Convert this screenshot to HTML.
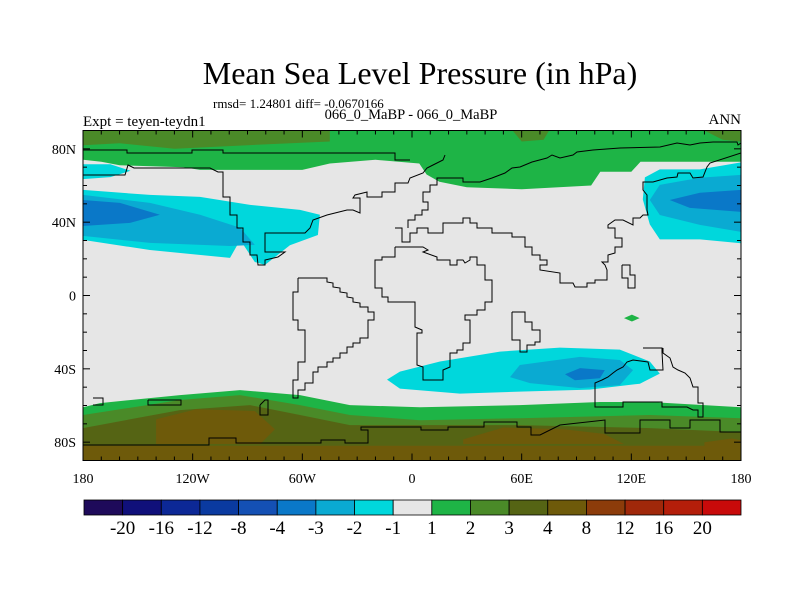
<!DOCTYPE html>
<html><head><meta charset="utf-8">
<style>
body{margin:0;background:#fff;}
svg text{font-family:"Liberation Serif",serif;fill:#000;}
</style></head>
<body>
<svg id="chart" width="800" height="600" viewBox="0 0 800 600" xmlns="http://www.w3.org/2000/svg">
<rect width="800" height="600" fill="#fff"/>
<text x="420" y="84" font-size="32" text-anchor="middle">Mean Sea Level Pressure (in hPa)</text>
<text x="213" y="108" font-size="13">rmsd= 1.24801 diff= -0.0670166</text>
<text x="411" y="119" font-size="14.5" text-anchor="middle">066_0_MaBP - 066_0_MaBP</text>
<text x="83" y="126" font-size="15">Expt = teyen-teydn1</text>
<text x="741" y="124" font-size="15" text-anchor="end">ANN</text>
<g id="plot"></g>
<g id="cbar"></g>
</svg>
<script>
const levelLabels=["-20","-16","-12","-8","-4","-3","-2","-1","1","2","3","4","8","12","16","20"];
const levelColors=["#1e0a5a","#10107a","#0c2896","#0a3aa0","#1450b4","#0a78c8","#0aaad2","#00d7dc","#e6e6e6","#1eb446","#4a8a28","#556414","#6e5a0a","#8c3c0a","#a0280a","#b41e0a","#c80a0a"];
const latTicks=[80,40,0,-40,-80];
const latTickLabels=["80N","40N","0","40S","80S"];
const lonTicks=[-180,-120,-60,0,60,120,180];
const lonTickLabels=["180","120W","60W","0","60E","120E","180"];
const northGreen=[[-180,90],[180,90],[180,73],[125,73],[120,67.5],[103,67.5],[98,60],[60,58],[30,59],[15,62],[8,66],[4,72],[-20,74],[-45,72],[-60,68.5],[-116,68.5],[-125,70],[-160,71],[-170,73],[-180,74]];
const northOlive1=[[-180,90],[-45,90],[-45,84],[-90,82],[-130,80],[-160,83],[-180,82]];
const northOlive2=[[55,90],[75,90],[72,85],[60,84]];
const northOlive3=[[160,90],[180,90],[180,84],[170,85]];
const pacCyanTop=[[-180,71.6],[-165,71.6],[-154,68],[-165,64.6],[-180,63.5]];
const pacCyan=[[-180,57.6],[-143.4,54.9],[-116,53.8],[-88.6,49.4],[-61.3,46.7],[-50.4,44],[-51.5,33],[-66.8,27.4],[-80.4,16.7],[-86,18.3],[-94,30.3],[-99.6,20.5],[-143.4,24.8],[-180,30.3]];
const pacMed=[[-180,54.9],[-143.4,50.5],[-116,44],[-94,36.9],[-86,27.6],[-99.6,27],[-143.4,28.7],[-180,32.5]];
const pacDark=[[-180,52.1],[-159.8,50.5],[-137.9,44],[-154.3,39.6],[-180,37.9]];
const wpCyan=[[180,72.6],[157.5,68.8],[135.6,68.8],[127.4,64.4],[126.3,52.4],[130.1,38.8],[135.6,30.6],[157.5,30.6],[180,28.5]];
const wpMed=[[180,65.8],[157.5,64.2],[135.6,60.3],[130.1,52.1],[135.6,43.9],[157.5,38.5],[180,34.7]];
const wpDark=[[180,57.6],[157.5,56],[141,52.1],[152,47.8],[180,45.6]];
const soCyan=[[-13.7,-45.9],[-6.6,-41.5],[15.3,-36],[48.1,-30.6],[80.9,-28.4],[113.7,-29.5],[130.1,-36],[135.6,-42.6],[124.7,-48.1],[97.3,-51.3],[59,-52.4],[26.2,-53.5],[-6.6,-50.8]];
const soMed=[[53.6,-44.5],[59,-37.9],[91.9,-33.5],[113.7,-35.2],[120.9,-40.7],[113.7,-48.9],[91.9,-50.5],[64.5,-47.8]];
const soDark=[[83.7,-42.9],[91.9,-39.6],[105.5,-40.7],[102.8,-45.1],[89.1,-46.2]];
const greenDot=[[116,-12.3],[120.3,-10.4],[124.5,-12.3],[120.3,-14.2]];
const sGreen=[[-180,-60.9],[-170.7,-58.7],[-127,-54.3],[-94.1,-51.6],[-61.3,-54.3],[-34,-59.8],[4.3,-60.9],[59,-59.8],[102.8,-58.1],[130.1,-58.1],[180,-60.9],[180,-90],[-180,-90]];
const sOlive1=[[-180,-65.2],[-127,-57],[-94.1,-54.3],[-61.3,-59.8],[-34,-65.2],[4.3,-68],[59,-66.9],[130.1,-65.2],[180,-66.9],[180,-90],[-180,-90]];
const sOlive2=[[-180,-72.3],[-127,-62.5],[-88.6,-59.8],[-61.3,-65.2],[-34,-70.7],[4.3,-70.7],[59,-70.7],[130.1,-72.3],[180,-74.5],[180,-90],[-180,-90]];
const sBrown1=[[-140,-67.5],[-118,-62],[-86,-63],[-75,-73],[-83,-81],[-140,-81]];
const sBrown2=[[28,-78.5],[50,-72],[83,-73],[105,-75.5],[116,-81],[28,-81]];
const sBrown3=[[-180,-82],[180,-82],[180,-90],[-180,-90]];
const sBrown4=[[160,-80],[175,-78],[180,-79],[180,-84],[160,-84]];
const fills=[[northGreen,9],[northOlive1,10],[northOlive2,10],[northOlive3,10],[pacCyanTop,7],[pacCyan,7],[pacMed,6],[pacDark,5],[wpCyan,7],[wpMed,6],[wpDark,5],[soCyan,7],[soMed,6],[soDark,5],[greenDot,9],[sGreen,9],[sOlive1,10],[sOlive2,11],[sBrown1,12],[sBrown2,12],[sBrown3,12],[sBrown4,12]];

const X0=83,X1=741,Y0=130.5,Y1=460.5;
function xs(lon){return X0+(lon+180)/360*(X1-X0);}
function ys(lat){return Y0+(90-lat)/180*(Y1-Y0);}
const NS="http://www.w3.org/2000/svg";
function mk(tag,attrs,parent){const e=document.createElementNS(NS,tag);for(const k in attrs)e.setAttribute(k,attrs[k]);parent.appendChild(e);return e;}
const plot=document.getElementById('plot');
const clipDefs=mk('defs',{},plot);
const cp=mk('clipPath',{id:'pc'},clipDefs);
mk('rect',{x:X0,y:Y0,width:X1-X0,height:Y1-Y0},cp);
const bg=mk('rect',{x:X0,y:Y0,width:X1-X0,height:Y1-Y0,fill:levelColors[8]},plot);


const fg=mk('g',{'clip-path':'url(#pc)'},plot);
fills.forEach((f,i)=>{
  const pts=f[0].map(p=>xs(p[0]).toFixed(1)+','+ys(p[1]).toFixed(1)).join(' ');
  const el=mk('polygon',{points:pts,fill:levelColors[f[1]]},fg);
  
  
});
const coasts=[
"83,150 127,150 127,153 192,153 192,150 223,150 223,153 340,153 395,153 395,160 410,160",
"83,175 125,175 128,165 134,168 210,168 218,172 223,172 223,183 223,197 230,197 230,215 237,215 237,228 243,228 243,242 250,242 250,255 257,255 258,265 265,265 265,260 278,257 285,252 265,252 265,233 305,233 310,228 313,220 327,215 347,210 353,210 360,213 360,198 353,198 355,195 367,192 367,197 382,197 382,192 395,192 395,183 408,183 410,178 423,173 427,168 433,165 443,160 445,155",
"395,228 402,228 402,242 410,242 410,233 417,233 417,228 428,228 428,233 443,233 443,223 463,223 463,218 470,218 470,223 477,223 477,228 492,228 492,233 512,233 512,237 525,237 525,247 532,247 532,255 540,255 540,260 547,260 547,265 540,265 540,270 560,273 560,283 573,283 575,287 587,287 587,283 595,283 595,280 607,280 607,270 605,265 602,262 608,262 608,255 615,253 615,247 622,247 622,238 615,238 615,228 608,228 608,225 615,220 623,220 633,225 633,218 640,218 643,215 648,215 647,210 647,195 643,190 643,182 653,182 667,178 677,177 678,173 690,173 693,178 703,177 707,167 710,163 741,153",
"408,228 408,220 415,220 415,215 422,215 422,210 428,210 428,202 423,202 423,192 430,192 430,185 437,185 437,178 463,178 463,182 480,182 492,178 505,173 512,168 520,167 532,162 547,158 552,155 560,158 573,155 577,152 593,150 620,148 660,147 677,143 690,145 700,143 713,142 737,142 738,145 741,143",
"395,247 423,247 428,250 423,252 437,257 437,260 450,260 450,265 457,265 457,260 463,260 465,263 470,260 470,257 477,257 477,265 485,265 485,280 492,280 492,302 485,302 485,310 477,310 477,315 465,315 465,320 470,320 470,343 463,343 463,350 457,350 457,353 450,353 450,367 443,370 443,380 423,380 423,367 417,365 417,333 422,333 422,330 415,327 415,302 388,302 388,297 382,297 382,288 375,288 375,260 382,260 382,257 395,257 395,247",
"298,278 327,278 327,282 333,283 333,287 340,288 340,292 347,293 347,297 353,298 353,302 360,303 360,307 368,307 368,312 374,312 374,320 368,320 368,338 360,338 360,343 353,343 353,347 347,347 347,353 340,353 340,358 333,358 333,362 327,362 327,367 318,367 318,372 313,372 313,383 305,383 305,390 298,390 298,398 293,398 293,380 298,380 298,362 305,362 305,330 298,330 298,320 293,320 293,292 298,292 298,278",
"643,348 662,348 662,352 663,370 650,370 648,362 633,360 627,362 623,367 617,370 613,373 608,377 602,380 595,383 595,407 623,407 623,402 662,402 662,407 687,407 693,410 698,410 698,417 703,417 703,403 698,403 698,387 693,387 690,378 685,373 678,370 673,367 670,358 663,353 663,348",
"512,312 525,312 525,322 532,322 532,330 540,330 540,342 535,342 535,345 527,345 527,352 520,352 520,340 512,340 512,312",
"622,265 630,265 630,275 635,275 635,288 628,288 628,278 622,278 622,265",
"83,445 209,445 209,438 236,438 236,443 321,443 321,440 345,440 345,443 368,443 368,430 361,430 361,427 421,427 421,430 448,430 448,427 484,427 484,422 517,422 517,427 531,427 531,435 540,435 560,425 605,420 605,433 640,433 640,420 670,420 670,428 690,428 690,420 720,420 720,432 741,432",
"148,400 181,400 181,405 148,405 148,400",
"93,398 103,398 103,405 93,405",
"260,405 265,400 268,400 268,415 260,415 260,405"
];
const cg=mk('g',{'clip-path':'url(#pc)'},plot);
coasts.forEach((c,i)=>{
  const el=mk('polyline',{points:c,fill:'none',stroke:'#000','stroke-width':1},cg);
  
  
});
const frame=mk('rect',{x:X0,y:Y0,width:X1-X0,height:Y1-Y0,fill:'none',stroke:'#000','stroke-width':1},plot);


for(let lat=-90;lat<=90;lat+=10){
  const L=(lat%40===0)?7:4;const y=ys(lat);
  mk('line',{x1:X0,x2:X0+L,y1:y,y2:y,stroke:'#000'},plot);
  mk('line',{x1:X1,x2:X1-L,y1:y,y2:y,stroke:'#000'},plot);
}
for(let lon=-180;lon<=180;lon+=10){
  const L=(lon%60===0)?7:4;const x=xs(lon);
  mk('line',{x1:x,x2:x,y1:Y1,y2:Y1-L,stroke:'#000'},plot);
  mk('line',{x1:x,x2:x,y1:Y0,y2:Y0+L,stroke:'#000'},plot);
}
latTicks.forEach((lat,i)=>{
  const t=mk('text',{x:X0-7,y:ys(lat)+5,'font-size':14,'text-anchor':'end'},plot);
  t.textContent=latTickLabels[i];
  
  
});
lonTicks.forEach((lon,i)=>{
  const t=mk('text',{x:xs(lon),y:483,'font-size':14,'text-anchor':'middle'},plot);
  t.textContent=lonTickLabels[i];
  
  
});
const cb=document.getElementById('cbar');
const CB0=84,CB1=741,CBY=500,CBH=15;
const bw=(CB1-CB0)/levelColors.length;
levelColors.forEach((c,i)=>{
  const r=mk('rect',{x:CB0+i*bw,y:CBY,width:bw,height:CBH,fill:c,stroke:'#000','stroke-width':0.8},cb);
  
  
});
levelLabels.forEach((l,i)=>{
  const t=mk('text',{x:CB0+(i+1)*bw,y:534,'font-size':19,'text-anchor':'middle'},cb);
  t.textContent=l;
  
  
});
</script>
</body></html>
